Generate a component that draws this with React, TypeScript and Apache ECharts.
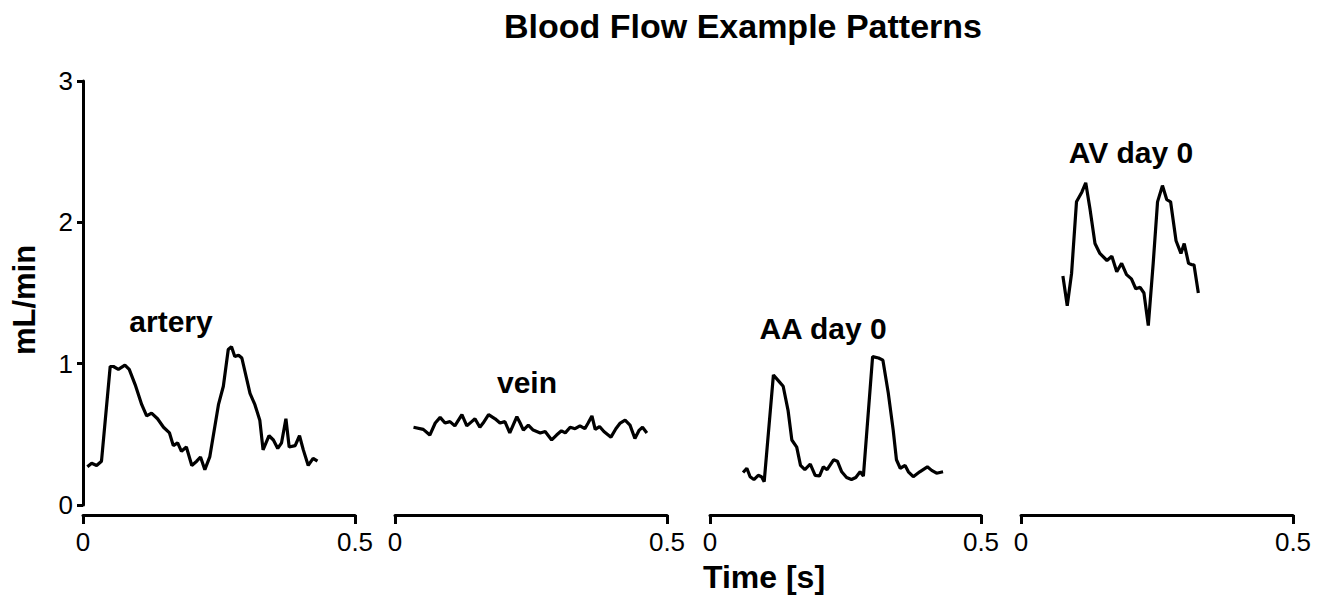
import React, { useEffect, useRef } from "react";
import * as echarts from "echarts";

// Time [s], flow [mL/min]
const artery: [number, number][] = [
  [0.008, 0.27], [0.016, 0.295], [0.025, 0.28], [0.034, 0.31], [0.05, 0.98], [0.056, 0.98],
  [0.065, 0.96], [0.077, 0.99], [0.085, 0.96], [0.096, 0.85], [0.108, 0.71], [0.117, 0.63],
  [0.126, 0.65], [0.137, 0.61], [0.148, 0.55], [0.159, 0.51], [0.166, 0.42], [0.174, 0.44],
  [0.181, 0.38], [0.19, 0.41], [0.2, 0.28], [0.209, 0.31], [0.216, 0.34], [0.224, 0.25],
  [0.233, 0.34], [0.249, 0.71], [0.258, 0.84], [0.267, 1.1], [0.273, 1.12], [0.279, 1.05],
  [0.286, 1.06], [0.292, 1.04], [0.307, 0.79], [0.316, 0.71], [0.325, 0.6], [0.331, 0.39],
  [0.342, 0.49], [0.35, 0.46], [0.358, 0.4], [0.365, 0.44], [0.373, 0.61], [0.379, 0.41],
  [0.39, 0.42], [0.398, 0.49], [0.405, 0.39], [0.414, 0.28], [0.423, 0.33], [0.431, 0.31],
];

const vein: [number, number][] = [
  [0.034, 0.55], [0.052, 0.535], [0.064, 0.495], [0.074, 0.58], [0.083, 0.62], [0.092, 0.58],
  [0.101, 0.59], [0.11, 0.56], [0.123, 0.64], [0.132, 0.56], [0.141, 0.59], [0.147, 0.61],
  [0.156, 0.55], [0.162, 0.58], [0.172, 0.64], [0.184, 0.61], [0.193, 0.58], [0.202, 0.59],
  [0.211, 0.51], [0.224, 0.625], [0.23, 0.58], [0.236, 0.53], [0.245, 0.565], [0.254, 0.53],
  [0.267, 0.51], [0.276, 0.52], [0.288, 0.46], [0.297, 0.495], [0.306, 0.525], [0.313, 0.51],
  [0.322, 0.55], [0.331, 0.54], [0.34, 0.56], [0.349, 0.54], [0.355, 0.58], [0.362, 0.63],
  [0.368, 0.535], [0.376, 0.555], [0.384, 0.52], [0.397, 0.48], [0.406, 0.54], [0.414, 0.58],
  [0.423, 0.6], [0.432, 0.565], [0.441, 0.47], [0.449, 0.53], [0.455, 0.55], [0.463, 0.51],
];

const aaDay0: [number, number][] = [
  [0.061, 0.23], [0.068, 0.26], [0.074, 0.2], [0.081, 0.18], [0.089, 0.21], [0.095, 0.2],
  [0.1, 0.165], [0.117, 0.92], [0.126, 0.88], [0.135, 0.84], [0.144, 0.67], [0.151, 0.46],
  [0.16, 0.41], [0.167, 0.28], [0.175, 0.25], [0.185, 0.29], [0.194, 0.21], [0.202, 0.205],
  [0.209, 0.27], [0.216, 0.25], [0.228, 0.32], [0.235, 0.31], [0.243, 0.235], [0.252, 0.195],
  [0.261, 0.18], [0.269, 0.195], [0.277, 0.235], [0.283, 0.205], [0.3, 1.05], [0.311, 1.04],
  [0.319, 1.025], [0.329, 0.79], [0.338, 0.53], [0.344, 0.32], [0.351, 0.26], [0.36, 0.28],
  [0.366, 0.235], [0.375, 0.2], [0.387, 0.235], [0.401, 0.27], [0.409, 0.245], [0.418, 0.225],
  [0.43, 0.235],
];

const avDay0: [number, number][] = [
  [0.077, 1.62], [0.085, 1.41], [0.093, 1.64], [0.102, 2.145], [0.112, 2.215], [0.119, 2.28],
  [0.127, 2.09], [0.136, 1.85], [0.145, 1.78], [0.158, 1.73], [0.167, 1.76], [0.176, 1.65],
  [0.185, 1.71], [0.194, 1.63], [0.203, 1.6], [0.211, 1.53], [0.219, 1.54], [0.226, 1.5],
  [0.234, 1.27], [0.243, 1.71], [0.251, 2.145], [0.26, 2.26], [0.268, 2.16], [0.275, 2.145],
  [0.285, 1.87], [0.294, 1.78], [0.3, 1.85], [0.308, 1.71], [0.314, 1.7], [0.318, 1.7],
  [0.326, 1.5],
];

const panelSeries = [artery, vein, aaDay0, avDay0];
const panelNames = ["artery", "vein", "AA day 0", "AV day 0"];
const xMin = 0;
const xMax = 0.5;
const yMin = 0;
const yMax = 3;

const FONT = "'Liberation Sans', Arial, Helvetica, sans-serif";

export default function App() {
  const ref = useRef<HTMLDivElement>(null);

  useEffect(() => {
    document.body.style.margin = "0";
    if (!ref.current) return;
    const chart = echarts.init(ref.current, null, { renderer: "svg" });

    const gridLefts = [83, 395, 710, 1021];
    const gridWidths = [272, 272, 271, 272];
    const labelPos: [number, number][] = [
      [171, 321],
      [527, 382],
      [823, 328],
      [1131, 152],
    ];

    const axisLineStyle = { color: "#000", width: 3 };

    const option: any = {
      animation: false,
      backgroundColor: "#fff",
      grid: gridLefts.map((l, i) => ({
        left: l,
        width: gridWidths[i],
        top: 81,
        height: 424,
      })),
      xAxis: gridLefts.map((_, i) => ({
        type: "value",
        gridIndex: i,
        min: xMin,
        max: xMax,
        interval: 0.5,
        offset: 10,
        splitLine: { show: false },
        axisLine: { show: true, onZero: false, lineStyle: axisLineStyle },
        axisTick: { show: true, length: 9, lineStyle: axisLineStyle },
        axisLabel: {
          color: "#000",
          fontSize: 26,
          fontFamily: FONT,
          margin: 14,
          showMinLabel: true,
          showMaxLabel: true,
          formatter: (v: number) => String(v),
        },
      })),
      yAxis: gridLefts.map((_, i) => ({
        type: "value",
        gridIndex: i,
        min: yMin,
        max: yMax,
        interval: 1,
        show: i === 0,
        splitLine: { show: false },
        axisLine: { show: true, onZero: false, lineStyle: axisLineStyle },
        axisTick: { show: true, length: 6, lineStyle: axisLineStyle },
        axisLabel: {
          color: "#000",
          fontSize: 26,
          fontFamily: FONT,
          margin: 10,
        },
      })),
      series: panelSeries.map((d, i) => ({
        type: "line",
        name: panelNames[i],
        xAxisIndex: i,
        yAxisIndex: i,
        data: d,
        showSymbol: false,
        symbol: "none",
        lineStyle: { color: "#000", width: 3.2 },
        silent: true,
      })),
      graphic: [
        {
          type: "text",
          x: 743,
          y: 26,
          style: {
            text: "Blood Flow Example Patterns",
            fill: "#000",
            fontSize: 34,
            fontWeight: "bold",
            fontFamily: FONT,
            align: "center",
            verticalAlign: "middle",
          },
        },
        {
          type: "text",
          x: 764,
          y: 577,
          style: {
            text: "Time [s]",
            fill: "#000",
            fontSize: 32,
            fontWeight: "bold",
            fontFamily: FONT,
            align: "center",
            verticalAlign: "middle",
          },
        },
        {
          type: "text",
          x: 24,
          y: 300,
          rotation: Math.PI / 2,
          style: {
            text: "mL/min",
            fill: "#000",
            fontSize: 31,
            fontWeight: "bold",
            fontFamily: FONT,
            align: "center",
            verticalAlign: "middle",
          },
        },
        ...panelNames.map((n, i) => ({
          type: "text",
          x: labelPos[i][0],
          y: labelPos[i][1],
          style: {
            text: n,
            fill: "#000",
            fontSize: 30,
            fontWeight: "bold",
            fontFamily: FONT,
            align: "center",
            verticalAlign: "middle",
          },
        })),
      ],
    };

    chart.setOption(option);
    return () => chart.dispose();
  }, []);

  return <div ref={ref} style={{ width: 1319, height: 597 }} />;
}
